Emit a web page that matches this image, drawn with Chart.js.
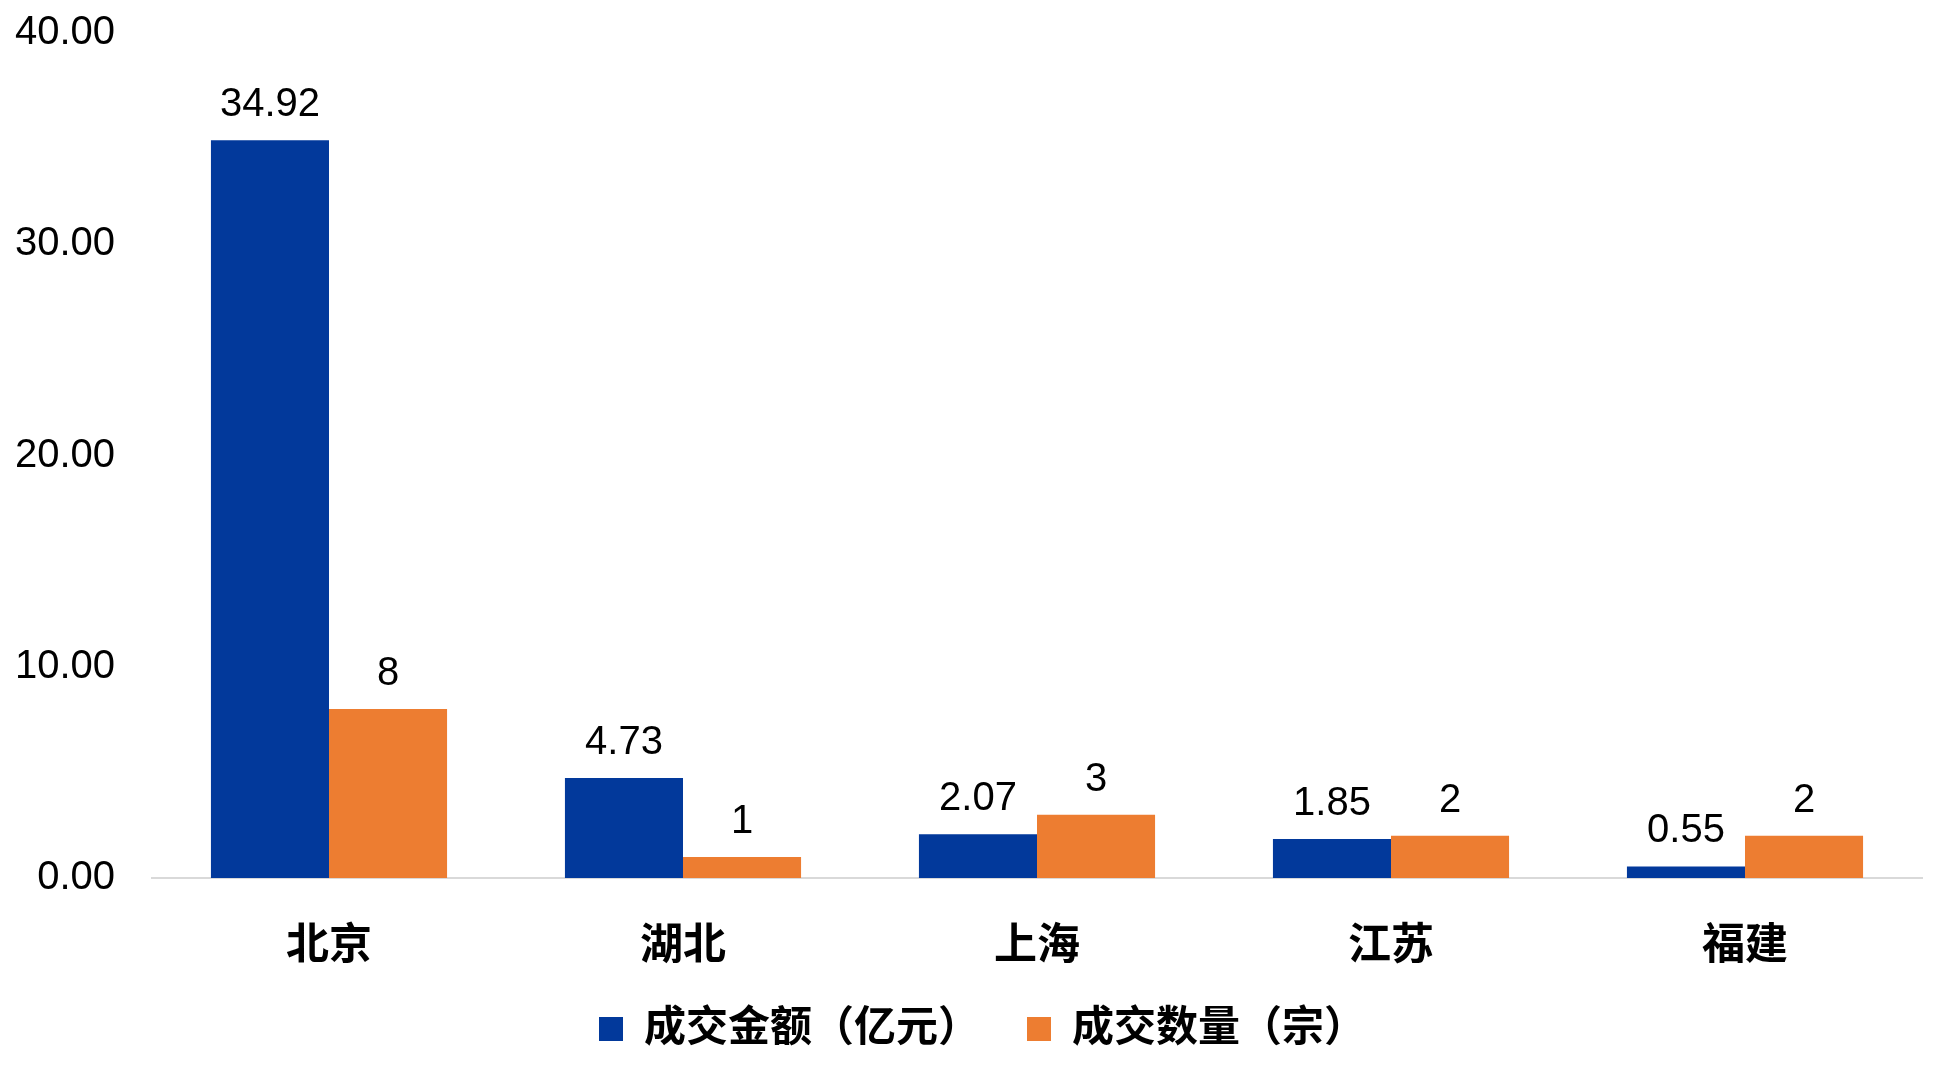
<!DOCTYPE html>
<html lang="zh-CN">
<head>
<meta charset="utf-8">
<title>成交金额与成交数量</title>
<script src="https://cdn.jsdelivr.net/npm/chart.js@4/dist/chart.umd.min.js"></script>
<style>
  html, body { margin: 0; padding: 0; background: #fff; }
  #grafico { display: block; }
</style>
</head>
<body>
<canvas id="grafico" width="1945" height="1073"></canvas>
<script>
// 各省成交金额（亿元）与成交数量（宗）
const provincias = ['北京', '湖北', '上海', '江苏', '福建'];
const montos = [34.92, 4.73, 2.07, 1.85, 0.55];
const cantidades = [8, 1, 3, 2, 2];
const etiquetasSerie = ['成交金额（亿元）', '成交数量（宗）'];
const ejeY = { min: 0, max: 40, paso: 10 };

const FUENTE = '"Liberation Sans", "Noto Sans CJK SC", Arial, sans-serif';
const AZUL = '#02399B';
const NARANJA = '#ED7D31';

// etiquetas de valor encima de cada barra
const etiquetasValor = {
  id: 'etiquetasValor',
  afterDatasetsDraw(chart) {
    const ctx = chart.ctx;
    ctx.save();
    ctx.font = `40px ${FUENTE}`;
    ctx.fillStyle = '#000';
    ctx.textAlign = 'center';
    ctx.textBaseline = 'alphabetic';
    chart.data.datasets.forEach((ds, i) => {
      const meta = chart.getDatasetMeta(i);
      meta.data.forEach((barra, j) => {
        const v = ds.data[j];
        const texto = i === 0 ? v.toFixed(2) : String(v);
        ctx.fillText(texto, barra.x, barra.y - 24);
      });
    });
    ctx.restore();
  },
};

// la leyenda del original queda un poco a la derecha del centro del lienzo
const moverLeyenda = {
  id: 'moverLeyenda',
  afterLayout(chart) {
    if (!chart.legend) return;
    chart.legend.left += 14;
    chart.legend.right += 14;
  },
};

new Chart(document.getElementById('grafico'), {
  type: 'bar',
  data: {
    labels: provincias,
    datasets: [
      // espacios al final para separar las dos entradas de la leyenda
      { label: etiquetasSerie[0] + '   ', data: montos, backgroundColor: AZUL },
      { label: etiquetasSerie[1], data: cantidades, backgroundColor: NARANJA },
    ],
  },
  options: {
    responsive: false,
    devicePixelRatio: 1,
    animation: false,
    layout: { padding: { left: 15, right: 23, top: 9, bottom: 13 } },
    datasets: { bar: { categoryPercentage: 0.667, barPercentage: 1.0 } },
    plugins: {
      tooltip: { enabled: false },
      legend: {
        position: 'bottom',
        labels: {
          boxWidth: 24,
          boxHeight: 24,
          padding: 12,
          color: '#000',
          font: { family: FUENTE, size: 42, weight: 'bold' },
        },
      },
    },
    scales: {
      x: {
        grid: { display: false, drawTicks: false },
        border: { display: true, color: '#D9D9D9', width: 2 },
        ticks: { padding: 43, color: '#000', font: { family: FUENTE, size: 43, weight: 'bold' } },
        afterFit(escala) { escala.height = 118; },
      },
      y: {
        min: ejeY.min,
        max: ejeY.max,
        grid: { display: false, drawTicks: false },
        border: { display: false },
        ticks: {
          stepSize: ejeY.paso,
          padding: 37,
          color: '#000',
          font: { family: FUENTE, size: 40 },
          callback: (v) => Number(v).toFixed(2),
        },
        afterFit(escala) {
          escala.width = 137;
          escala.paddingTop = 33;
        },
      },
    },
  },
  plugins: [etiquetasValor, moverLeyenda],
});
</script>
</body>
</html>
